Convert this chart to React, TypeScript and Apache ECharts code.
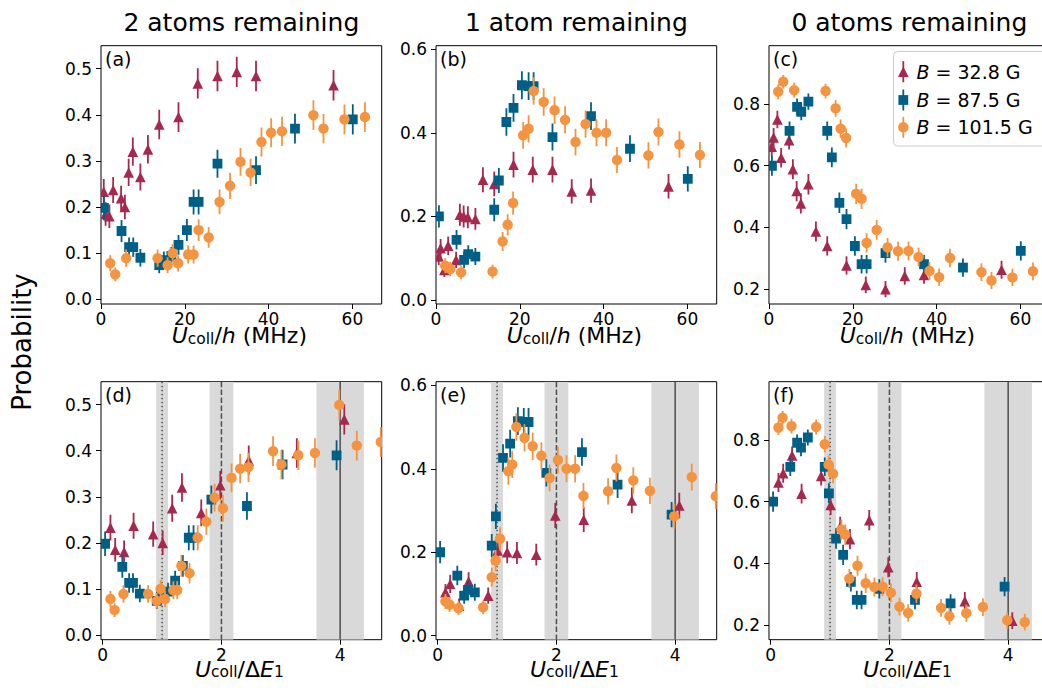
import React, { useEffect, useRef } from "react";
import * as echarts from "echarts";

const FONT = "DejaVu Sans";

// ---------- series meta ----------
const fieldValues = ["32.8", "87.5", "101.5"];
const colors = ["#a6284d", "#005f86", "#f59440"];
const markerShapes = ["triangle", "square", "circle"];
const shotsPerPoint = [230, 225, 230];

const columnTitles = ["2 atoms remaining", "1 atom remaining", "0 atoms remaining"];
const panelLetters = [
  ["(a)", "(b)", "(c)"],
  ["(d)", "(e)", "(f)"],
];

// ---------- x values: U_coll/h (MHz) ----------
const redU = [0.65, 1.1, 2.0, 2.9, 4.8, 5.7, 6.6, 7.6, 9.4, 11.2, 13.9, 18.5, 23.1, 27.8, 32.4, 37.0, 55.5];
const blueU = [0.7, 4.9, 6.7, 7.7, 9.4, 13.9, 15.0, 16.8, 18.5, 20.5, 22.1, 23.3, 27.8, 37.0, 46.3, 60.1];
const orangeU = [2.2, 3.4, 6.0, 13.5, 15.9, 17.1, 18.4, 20.8, 22.1, 23.3, 25.7, 28.3, 30.8, 33.3, 35.7, 38.3, 40.6, 43.2, 50.7, 53.1, 58.1, 63.0, 70.1, 75.3, 82.5];

// ---------- x values: U_coll/ΔE_1 ----------
const redR = [0.13, 0.21, 0.36, 0.52, 0.85, 1.01, 1.17, 1.335, 1.66, 1.98, 2.46, 3.27, 4.07, 4.91, 5.72, 6.54, 9.8];
const blueR = [0.04, 0.33, 0.445, 0.51, 0.625, 0.91, 0.98, 1.1, 1.22, 1.35, 1.45, 1.53, 1.83, 2.43, 3.03, 3.94];
const orangeR = [0.13, 0.2, 0.35, 0.765, 0.91, 0.975, 1.05, 1.19, 1.255, 1.325, 1.462, 1.6, 1.746, 1.885, 2.025, 2.17, 2.315, 2.455, 2.87, 3.01, 3.295, 3.575, 3.985, 4.28, 4.685];

// ---------- probabilities ----------
const redP2 = [0.233, 0.185, 0.18, 0.237, 0.219, 0.2, 0.275, 0.32, 0.265, 0.325, 0.379, 0.395, 0.468, 0.484, 0.493, 0.484, 0.464];
const redP1 = [0.104, 0.124, 0.072, 0.13, 0.096, 0.204, 0.2, 0.198, 0.194, 0.288, 0.278, 0.324, 0.312, 0.312, 0.26, 0.262, 0.272];
const redP0 = [0.662, 0.692, 0.75, 0.626, 0.683, 0.589, 0.518, 0.478, 0.54, 0.387, 0.34, 0.277, 0.214, 0.2, 0.243, 0.246, 0.263];

const blueP2 = [0.198, 0.148, 0.113, 0.113, 0.09, 0.074, 0.085, 0.094, 0.118, 0.15, 0.211, 0.211, 0.294, 0.28, 0.37, 0.39];
const blueP1 = [0.2, 0.144, 0.096, 0.11, 0.104, 0.216, 0.286, 0.426, 0.46, 0.514, 0.512, 0.512, 0.39, 0.44, 0.362, 0.29];
const blueP0 = [0.6, 0.713, 0.791, 0.775, 0.808, 0.713, 0.627, 0.48, 0.427, 0.34, 0.281, 0.281, 0.317, 0.281, 0.27, 0.324];

const orangeP2 = [0.078, 0.054, 0.089, 0.089, 0.074, 0.1, 0.078, 0.097, 0.097, 0.15, 0.134, 0.211, 0.246, 0.298, 0.275, 0.341, 0.361, 0.364, 0.399, 0.37, 0.39, 0.395, 0.499, 0.411, 0.419];
const orangeP1 = [0.082, 0.074, 0.066, 0.068, 0.14, 0.18, 0.232, 0.394, 0.41, 0.5, 0.474, 0.454, 0.431, 0.378, 0.421, 0.4, 0.4, 0.335, 0.346, 0.402, 0.372, 0.347, 0.286, 0.38, 0.334];
const orangeP0 = [0.84, 0.872, 0.845, 0.842, 0.786, 0.72, 0.69, 0.509, 0.493, 0.35, 0.392, 0.335, 0.323, 0.324, 0.304, 0.259, 0.239, 0.301, 0.255, 0.228, 0.238, 0.258, 0.215, 0.209, 0.247];

// ---------- axes ----------
const topXTicks = [0, 20, 40, 60];
const bottomXTicks = [0, 2, 4];
const yTicksByCol = [
  [0, 0.1, 0.2, 0.3, 0.4, 0.5],
  [0, 0.2, 0.4, 0.6],
  [0.2, 0.4, 0.6, 0.8],
];
const yRangeByCol = [
  [-0.0102, 0.5497],
  [-0.0096, 0.6086],
  [0.152, 0.989],
];
const xRangeByRow = [
  [0, 67],
  [-0.029, 4.7],
];
const bandRanges = [
  [0.9, 1.1],
  [1.8, 2.2],
  [3.6, 4.4],
];
const refLines = [1, 2, 4];

// ---------- layout ----------
const colLeft = [101, 436, 769];
const rowTop = [45.7, 381.7];
const gridW = 280.7;
const gridH = [258.3, 258];

const xByRow = [
  [redU, blueU, orangeU],
  [redR, blueR, orangeR],
];
const pByCol = [
  [redP2, blueP2, orangeP2],
  [redP1, blueP1, orangeP1],
  [redP0, blueP0, orangeP0],
];

function markerEl(shape: string, cx: number, cy: number, color: string) {
  if (shape === "triangle") {
    const s = 5.3;
    return {
      type: "polygon",
      shape: { points: [[cx, cy - s], [cx - s, cy + s], [cx + s, cy + s]] },
      style: { fill: color },
    };
  }
  if (shape === "square") {
    const h = 4.9;
    return {
      type: "rect",
      shape: { x: cx - h, y: cy - h, width: 2 * h, height: 2 * h },
      style: { fill: color },
    };
  }
  return { type: "circle", shape: { cx, cy, r: 5.2 }, style: { fill: color } };
}

const axisRich = {
  i: { fontFamily: FONT, fontSize: 22, fontStyle: "italic", lineHeight: 22, verticalAlign: "middle", fill: "#000" },
  n: { fontFamily: FONT, fontSize: 22, lineHeight: 22, verticalAlign: "middle", fill: "#000" },
  s: { fontFamily: FONT, fontSize: 15.5, lineHeight: 9, verticalAlign: "bottom", fill: "#000" },
};

function buildOption() {
  const grid: any[] = [];
  const xAxis: any[] = [];
  const yAxis: any[] = [];
  const series: any[] = [];

  for (let r = 0; r < 2; r++) {
    for (let c = 0; c < 3; c++) {
      const g = r * 3 + c;
      grid.push({
        left: colLeft[c],
        top: rowTop[r],
        width: gridW,
        height: gridH[r],
        show: true,
        borderColor: "#000",
        borderWidth: 1,
        backgroundColor: "transparent",
        containLabel: false,
        outerBoundsMode: "none",
      });
      const xt = r === 0 ? topXTicks : bottomXTicks;
      xAxis.push({
        type: "value",
        gridIndex: g,
        min: xRangeByRow[r][0],
        max: xRangeByRow[r][1],
        axisLine: { show: false, onZero: false },
        axisTick: { show: true, length: 5, lineStyle: { color: "#000", width: 1 }, customValues: xt },
        axisLabel: {
          show: true,
          customValues: xt,
          fontSize: 17,
          fontFamily: FONT,
          color: "#000",
          margin: 8,
          lineHeight: 14,
          formatter: (v: number) => String(v),
        },
        splitLine: { show: false },
      });
      const yt = yTicksByCol[c];
      yAxis.push({
        type: "value",
        gridIndex: g,
        min: yRangeByCol[c][0],
        max: yRangeByCol[c][1],
        axisLine: { show: false, onZero: false },
        axisTick: { show: true, length: 5, lineStyle: { color: "#000", width: 1 }, customValues: yt },
        axisLabel: {
          show: true,
          customValues: yt,
          fontSize: 17,
          fontFamily: FONT,
          color: "#000",
          margin: 9,
          formatter: (v: number) => v.toFixed(1),
        },
        splitLine: { show: false },
      });

      if (r === 1) {
        series.push({
          type: "custom",
          xAxisIndex: g,
          yAxisIndex: g,
          z: 1,
          clip: true,
          silent: true,
          encode: { x: [0, 1], y: 2 },
          data: bandRanges.map((b) => [b[0], b[1], yTicksByCol[c][0]]),
          renderItem: (params: any, api: any) => {
            const cs = params.coordSys;
            const p0 = api.coord([api.value(0), yTicksByCol[c][0]]);
            const p1 = api.coord([api.value(1), yTicksByCol[c][0]]);
            return {
              type: "rect",
              shape: { x: p0[0], y: cs.y, width: p1[0] - p0[0], height: cs.height },
              style: { fill: "#d9d9d9" },
            };
          },
        });
        series.push({
          type: "custom",
          xAxisIndex: g,
          yAxisIndex: g,
          z: 2,
          clip: true,
          silent: true,
          encode: { x: 0, y: 1 },
          data: refLines.map((v) => [v, yTicksByCol[c][0]]),
          renderItem: (params: any, api: any) => {
            const cs = params.coordSys;
            const p = api.coord([api.value(0), api.value(1)]);
            const idx = params.dataIndex;
            const dash = idx === 0 ? [1.5, 2.5] : idx === 1 ? [5.5, 2.4] : null;
            return {
              type: "line",
              shape: { x1: p[0], y1: cs.y, x2: p[0], y2: cs.y + cs.height },
              style: { stroke: "#4d4d4d", lineWidth: 1.5, lineDash: dash },
            };
          },
        });
      }

      for (let f = 0; f < 3; f++) {
        const xs = xByRow[r][f];
        const ps = pByCol[c][f];
        const n = shotsPerPoint[f];
        const color = colors[f];
        const shape = markerShapes[f];
        series.push({
          type: "custom",
          name: "B = " + fieldValues[f] + " G",
          xAxisIndex: g,
          yAxisIndex: g,
          z: 3 + f,
          clip: true,
          silent: true,
          encode: { x: 0, y: 1 },
          data: xs.map((x, i) => [x, ps[i], Math.sqrt((ps[i] * (1 - ps[i])) / n)]),
          renderItem: (params: any, api: any) => {
            const x = api.value(0);
            const y = api.value(1);
            const e = api.value(2);
            const ctr = api.coord([x, y]);
            const lo = api.coord([x, y - e]);
            const hi = api.coord([x, y + e]);
            return {
              type: "group",
              children: [
                {
                  type: "line",
                  shape: { x1: ctr[0], y1: lo[1], x2: ctr[0], y2: hi[1] },
                  style: { stroke: color, lineWidth: 1.8 },
                },
                markerEl(shape, ctr[0], ctr[1], color),
              ],
            };
          },
        });
      }
    }
  }

  const graphic: any[] = [];
  // column titles and axis names
  for (let c = 0; c < 3; c++) {
    graphic.push({
      type: "text",
      x: colLeft[c] + gridW / 2,
      y: 22,
      style: { text: columnTitles[c], fontFamily: FONT, fontSize: 25, fill: "#000", align: "center", verticalAlign: "middle" },
    });
    graphic.push({
      type: "text",
      x: colLeft[c] + gridW / 2 - 2,
      y: 335.5,
      style: {
        text: "{i|U}{s|coll}{n|/}{i|h}{n| (MHz)}",
        rich: axisRich,
        align: "center",
        verticalAlign: "middle",
      },
    });
    graphic.push({
      type: "text",
      x: colLeft[c] + gridW / 2 - 2,
      y: 669,
      style: {
        text: "{i|U}{s|coll}{n|/Δ}{i|E}{s|1}",
        rich: axisRich,
        align: "center",
        verticalAlign: "middle",
      },
    });
  }
  // panel letters
  for (let r = 0; r < 2; r++) {
    for (let c = 0; c < 3; c++) {
      graphic.push({
        type: "text",
        x: colLeft[c] + 4,
        y: rowTop[r] + 13,
        style: { text: panelLetters[r][c], fontFamily: FONT, fontSize: 19, fill: "#000", align: "left", verticalAlign: "middle" },
      });
    }
  }
  // y label
  graphic.push({
    type: "text",
    x: 22,
    y: 342,
    rotation: Math.PI / 2,
    style: { text: "Probability", fontFamily: FONT, fontSize: 26, fill: "#000", align: "center", verticalAlign: "middle" },
  });

  // legend in panel (c)
  const legendRowY = [71.7, 100, 127.3];
  const legendChildren: any[] = [
    {
      type: "rect",
      shape: { x: 893.5, y: 51.5, width: 170, height: 94.5, r: 4 },
      style: { fill: "rgba(255,255,255,0.8)", stroke: "#cccccc", lineWidth: 1 },
    },
  ];
  for (let f = 0; f < 3; f++) {
    const y = legendRowY[f];
    legendChildren.push({
      type: "line",
      shape: { x1: 903.3, y1: y - 10.5, x2: 903.3, y2: y + 10.5 },
      style: { stroke: colors[f], lineWidth: 1.8 },
    });
    legendChildren.push(markerEl(markerShapes[f], 903.3, y, colors[f]));
    legendChildren.push({
      type: "text",
      x: 916.5,
      y: y,
      style: {
        text: "{i|B} = " + fieldValues[f] + " G",
        fontFamily: FONT,
        fontSize: 19,
        fill: "#000",
        align: "left",
        verticalAlign: "middle",
        rich: { i: { fontFamily: FONT, fontSize: 19, fontStyle: "italic", fill: "#000" } },
      },
    });
  }
  graphic.push({ type: "group", z: 100, children: legendChildren });

  return {
    animation: false,
    backgroundColor: "#fff",
    grid,
    xAxis,
    yAxis,
    series,
    graphic,
  };
}

export default function App() {
  const ref = useRef<HTMLDivElement>(null);
  useEffect(() => {
    if (!ref.current) return;
    const chart = echarts.init(ref.current, null, { renderer: "svg" });
    chart.setOption(buildOption() as any);
    return () => chart.dispose();
  }, []);
  return (
    <div
      ref={ref}
      style={{ position: "fixed", left: 0, top: 0, width: 1042, height: 694, background: "#fff" }}
    />
  );
}
